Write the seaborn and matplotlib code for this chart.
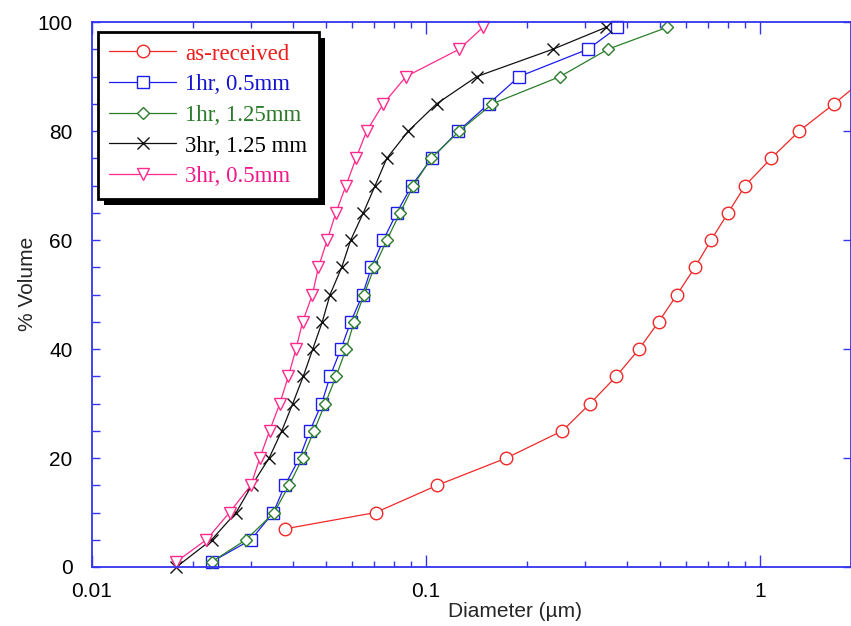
import numpy as np
import pandas as pd
import matplotlib
matplotlib.use("Agg")
import matplotlib.pyplot as plt
import matplotlib.ticker as mticker
import matplotlib.patches as mpatches
import seaborn as sns

# ---- data ----
steps = [1, 5, 10, 15, 20, 25, 30, 35, 40, 45, 50, 55, 60, 65, 70, 75, 80, 85, 90, 95, 99]

asrec_x = [0.0378, 0.0707, 0.108, 0.174, 0.256, 0.310, 0.371, 0.434, 0.497, 0.564,
           0.638, 0.713, 0.802, 0.902, 1.079, 1.309, 1.665, 2.09]
asrec_y = [7, 10, 15, 20, 25, 30, 35, 40, 45, 50, 55, 60, 65, 70, 75, 80, 85, 90]

h1_05_x = [0.0229, 0.0299, 0.0349, 0.0378, 0.0418, 0.0449, 0.0487, 0.0516, 0.0556, 0.0595,
           0.0646, 0.0686, 0.0745, 0.0817, 0.0906, 0.104, 0.125, 0.154, 0.190, 0.305, 0.374]
h1_05_y = steps

h1_125_x = [0.0229, 0.0289, 0.0351, 0.0389, 0.0427, 0.0462, 0.0499, 0.0538, 0.0576, 0.0609,
            0.0652, 0.0700, 0.0763, 0.0836, 0.0916, 0.1035, 0.1258, 0.158, 0.252, 0.350, 0.526]
h1_125_y = steps

h3_125_x = [0.0179, 0.0228, 0.0270, 0.0301, 0.0339, 0.0370, 0.0399, 0.0429, 0.0458, 0.0489,
            0.0516, 0.0559, 0.0595, 0.0649, 0.0704, 0.0763, 0.0885, 0.1076, 0.1419, 0.2395, 0.345]
h3_125_y = [0] + steps[1:]

h3_05_x = [0.0179, 0.0220, 0.0258, 0.0299, 0.0318, 0.0340, 0.0365, 0.0387, 0.0408, 0.0427,
           0.0457, 0.0476, 0.0506, 0.0537, 0.0576, 0.0617, 0.0664, 0.0745, 0.0871, 0.1256, 0.1478]
h3_05_y = steps

labels = ["as-received", "1hr, 0.5mm", "1hr, 1.25mm", "3hr, 1.25 mm", "3hr, 0.5mm"]
xticks = [0.01, 0.1, 1]
xtick_labels = ["0.01", "0.1", "1"]
yticks = [0, 20, 40, 60, 80, 100]

# ---- style ----
sns.set_style("ticks")
plt.rcParams["font.family"] = ["Liberation Sans", "DejaVu Sans"]

fig = plt.figure(figsize=(8.51, 6.26), dpi=100)
ax = fig.add_axes([92 / 851, 1 - 567 / 626, 1 - 92 / 851, (567 - 22) / 626])

series = [
    (asrec_x, asrec_y, labels[0], "#f02828", "o", 9.0),
    (h1_05_x, h1_05_y, labels[1], "#1c1cf0", "s", 8.6),
    (h1_125_x, h1_125_y, labels[2], "#2a7d2a", "D", 6.0),
    (h3_125_x, h3_125_y, labels[3], "#111111", "x", 8.5),
    (h3_05_x, h3_05_y, labels[4], "#ff2a8c", "v", 9.0),
]
text_colors = ["#ee1c1c", "#1414cc", "#2a7a2a", "#000000", "#f01888"]

for xs, ys, lab, col, mk, ms in series:
    df = pd.DataFrame({"x": xs, "y": ys})
    sns.lineplot(data=df, x="x", y="y", ax=ax, sort=False, estimator=None,
                 color=col, marker=mk, markersize=ms, mfc="white", mec=col,
                 mew=1.0, lw=0.9, label=lab, clip_on=False)

ax.set_xscale("log")
ax.set_xlim(0.01, 1.87)
ax.set_ylim(0, 100)

ax.xaxis.set_major_locator(mticker.FixedLocator(xticks))
ax.xaxis.set_major_formatter(mticker.FixedFormatter(xtick_labels))
ax.xaxis.set_minor_locator(mticker.LogLocator(base=10, subs=np.arange(2, 10)))
ax.xaxis.set_minor_formatter(mticker.NullFormatter())
ax.yaxis.set_major_locator(mticker.FixedLocator(yticks))
ax.yaxis.set_minor_locator(mticker.MultipleLocator(5))

spine_col = "#3434f0"
for s in ax.spines.values():
    s.set_visible(True)
    s.set_color(spine_col)
    s.set_linewidth(1.3)

ax.tick_params(axis="both", which="both", direction="in", color=spine_col,
               top=True, right=True, width=1.0, labelsize=15, labelcolor="black")
ax.tick_params(axis="x", which="major", length=8.5, pad=11)
ax.tick_params(axis="x", which="minor", length=4.5)
ax.tick_params(axis="y", which="major", length=5.8, pad=14)
ax.tick_params(axis="y", which="minor", length=5.8, right=False)

ax.set_xlabel("Diameter (\u00b5m)", fontsize=15)
ax.set_ylabel("% Volume", fontsize=15)
ax.xaxis.set_label_coords((515 - 92) / 759, -0.064)
ax.yaxis.set_label_coords(-0.072, 0.52)

leg = ax.legend(loc="upper left", bbox_to_anchor=(6 / 759, 1 - 10 / 545),
                prop={"family": ["Liberation Serif", "DejaVu Serif"], "size": 16.5},
                frameon=True, fancybox=False, edgecolor="black", framealpha=1,
                handlelength=2.9, handletextpad=0.4, labelspacing=0.42,
                borderpad=0.5, borderaxespad=0)
leg.get_frame().set_linewidth(2.0)
for t, c in zip(leg.get_texts(), text_colors):
    t.set_color(c)

fig.canvas.draw()
bb = leg.get_window_extent().transformed(fig.transFigure.inverted())
dx, dy = 6 / 851, 6 / 626
shadow = mpatches.Rectangle((bb.x0 + dx, bb.y0 - dy), bb.width, bb.height,
                            transform=fig.transFigure, facecolor="black",
                            edgecolor="none", zorder=4.9, clip_on=False)
ax.add_patch(shadow)

fig.savefig("out.png", dpi=100)
